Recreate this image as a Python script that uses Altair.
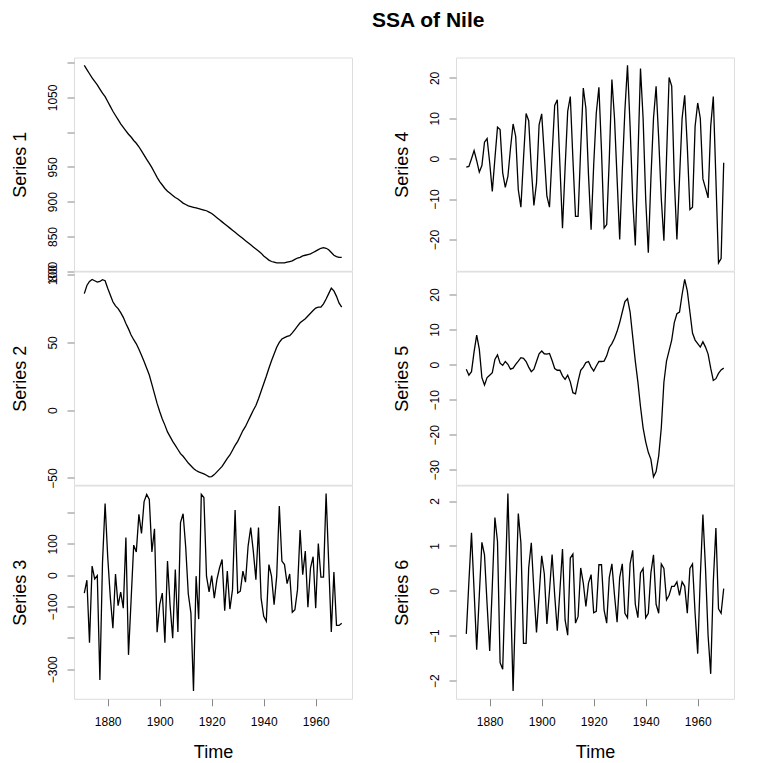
import altair as alt
import pandas as pd

years = list(range(1871, 1971))

series1 = [1096, 1090, 1084, 1078, 1073, 1068, 1062, 1056, 1051, 1044,
           1037, 1030, 1024, 1018, 1012, 1007, 1002, 997, 993, 988,
           984, 979, 973, 967, 961, 955, 949, 942, 935, 929,
           924, 919, 915, 912, 909, 906, 904, 901, 898, 896,
           894, 893, 892, 891, 890, 889, 888, 887, 885, 883,
           880, 877, 874, 871, 868, 865, 862, 859, 856, 853,
           850, 847, 844, 841, 838, 835, 832, 829, 826, 822,
           819, 816, 814, 813, 812, 812, 812, 812, 813, 814,
           815, 817, 819, 820, 822, 823, 824, 825, 827, 829,
           831, 833, 834, 833, 831, 827, 823, 821, 820, 820]

series2 = [86, 92, 95, 96.5, 95.5, 94.5, 95, 96.3, 95.5, 90,
           85, 80, 77, 75, 72, 68.5, 64, 60, 55.5, 52,
           49, 45, 40.5, 36, 31, 26, 19, 12, 5, -1,
           -6.5, -11, -16, -19.5, -23, -26, -29, -32, -34, -36.5,
           -39, -41, -43, -44.5, -45.5, -46.3, -47, -48, -49.2, -49,
           -47.5, -45.5, -43.5, -41.5, -38.5, -35.5, -33, -29.5, -26, -23,
           -19, -15, -12, -8, -4, 0, 3.5, 8.5, 14, 19.5,
           25, 31, 36.5, 41.5, 46.5, 50, 52.5, 53.5, 54.5, 55,
           57, 59.5, 62, 64.5, 66, 67.5, 69.5, 71.5, 73.5, 75.3,
           76, 76, 78.5, 82, 86, 90, 88, 84, 79, 76]

series3 = [-57, -16, -215, 29, -12, -1, -334, 40, 229, 60,
           -70, -169, 4, -97, -54, -105, 120, -254, -80, 96,
           74, 194, 133, 235, 258, 242, 74, 148, -182, -94,
           -57, -215, 45, -97, -201, 18, -181, 168, 196, 90,
           -60, -120, -369, -3, -140, 258, 248, -3, -53, -1,
           -73, -14, 23, 50, -113, 13, -108, -46, 208, -57,
           -51, 13, -22, 93, 152, 77, -14, 152, -73, -131,
           -147, 34, -3, -94, -3, 221, 45, 34, -27, 4,
           -118, -110, -46, 144, 2, 77, -102, 23, 59, -105,
           101, -6, -6, 261, 39, -181, 10, -160, -160, -153]

series4 = [-2.1, -1.9, 0.0, 2.0, -0.5, -3.3, -1.7, 4.1, 5.0, -1.0,
           -8.1, 0.0, 7.8, 7.2, -3.5, -7.1, -4.4, 2.6, 8.6, 5.5,
           -7.7, -12.0, 0.0, 11.2, 9.4, -2.3, -11.6, -6.0, 8.4, 11.1,
           1.0, -9.3, -12.0, 1.0, 13.2, 14.6, -1.5, -17.2, -2.3, 11.7,
           15.4, 0.0, -14.3, -14.3, 2.6, 17.5, 12.5, -4.0, -17.6, -1.5,
           11.3, 17.7, 2.0, -17.2, -16.3, 0.0, 19.6, 10.0, -5.0, -20.0,
           -3.0, 12.0, 23.1, 8.0, -10.0, -21.5, 0.0, 22.3, 10.0, -10.0,
           -23.3, -5.0, 10.0, 17.9, 5.0, -10.0, -20.3, 0.0, 20.1, 18.0,
           -5.0, -20.0, -5.0, 10.0, 15.7, 3.0, -12.6, -12.0, 8.0, 13.8,
           10.0, -5.0, -7.3, -9.7, 8.0, 15.4, -5.0, -25.8, -24.7, -1.0]

series5 = [-1.3, -3, -2, 3.7, 8.4, 4.4, -3.7, -5.8, -3.7, -3,
           -2.3, 1.5, 2.8, 0.4, -0.2, 0.9, 0.1, -1.3, -1, 0.1,
           1, 2, 1.8, 0.9, -0.7, -2, -1.3, 0.9, 3.1, 3.9,
           3.1, 3, 3.2, 1.2, -1.1, -1.6, -1.6, -3.2, -4.2, -3,
           -4.9, -8, -8.3, -4.7, -1.6, -0.7, 0.6, 0.9, -0.7, -1.8,
           -0.4, 0.9, 0.9, 1, 2.5, 4.9, 6, 7.5, 9.5, 12,
           15, 18, 18.8, 15, 8, 1, -5, -12, -18, -22,
           -25, -27, -32, -30.5, -26, -18, -5, 1, 4, 7,
           12, 14.5, 15, 20, 24.3, 21, 15, 9, 7, 6,
           5, 6.5, 5, 3, -1, -4.5, -4, -2.5, -1.5, -1]

series6 = [-0.96, 0.2, 1.29, 0.0, -1.31, -0.1, 1.08, 0.8, -0.3, -1.34,
           0.1, 1.63, 1.1, -1.6, -1.75, 0.2, 2.17, 0.0, -2.23, -0.2,
           1.72, 1.07, -1.17, -1.17, 0.51, 1.07, 0.0, -0.93, -0.1, 0.78,
           0.38, -0.74, 0.0, 0.81, -0.1, -0.89, 0.0, 0.93, -0.65, -0.99,
           0.73, 0.82, -0.72, -0.57, 0.51, 0.17, -0.35, 0.17, 0.36, -0.49,
           -0.46, 0.58, 0.58, -0.43, -0.72, 0.3, 0.6, -0.1, -0.7, 0.3,
           0.6, -0.5, -0.6, 0.6, 0.9, -0.3, -0.6, 0.4, 0.5, -0.6,
           -0.5, 0.4, 0.8, -0.3, -0.5, 0.6, 0.5, -0.2, -0.1, 0.1,
           0.1, 0.2, -0.1, 0.2, 0.1, -0.5, 0.5, 0.6, -0.5, -1.4,
           0.3, 1.7, 0.5, -1.0, -1.85, 0.2, 1.4, -0.4, -0.5, 0.05]

names = ["Series 1", "Series 2", "Series 3", "Series 4", "Series 5", "Series 6"]
y_ticks = [[800, 850, 900, 950, 1000, 1050, 1100],
           [-50, 0, 50, 100],
           [-300, -200, -100, 0, 100, 200],
           [-20, -10, 0, 10, 20],
           [-30, -20, -10, 0, 10, 20],
           [-2, -1, 0, 1, 2]]
y_hidden = [[1000, 1100], [], [-200, 200], [], [], []]
x_ticks = [1880, 1900, 1920, 1940, 1960]

for s in (series1, series2, series3, series4, series5, series6):
    assert len(s) == len(years)

FONT = "Liberation Sans"
PW = 278
PH = 213.3
GAP = 104
X_DOM = [1871 - 0.04 * 99, 1970 + 0.04 * 99]


def ext(vals):
    lo, hi = min(vals), max(vals)
    e = 0.04 * (hi - lo)
    return [lo - e, hi + e]


def panel(vals, name, ticks, hidden, show_x):
    df = pd.DataFrame({"year": years, "value": vals})
    if hidden:
        lbl = "indexof([" + ",".join(str(h) for h in hidden) + "], datum.value) >= 0 ? '' : datum.label"
    else:
        lbl = "datum.label"
    yaxis = alt.Axis(
        values=ticks, format="d", labelExpr=lbl, title=name,
        titleX=-45, titleY=PH / 2, titleAngle=270, titleAlign="center",
        titleBaseline="bottom", titleFontSize=18, titleFontWeight="normal",
        labelAngle=270, labelAlign="center", labelBaseline="bottom",
        labelFontSize=12, tickSize=7, labelPadding=7.5, domain=False,
        grid=False, labelOverlap=False, labelFlush=False, labelBound=False,
    )
    if show_x:
        xaxis = alt.Axis(
            values=x_ticks, format="d", title="Time", titleX=PW / 2,
            titleY=58.3, titleAlign="center", titleBaseline="alphabetic",
            titleFontSize=18, titleFontWeight="normal", labelFontSize=12,
            labelBaseline="top", labelAlign="center", labelAngle=0,
            tickSize=7, labelPadding=11, domain=False, grid=False,
            labelOverlap=False, labelFlush=False,
        )
    else:
        xaxis = None
    return alt.Chart(df).mark_line(color="black", strokeWidth=1.3).encode(
        x=alt.X("year:Q", scale=alt.Scale(domain=X_DOM, nice=False, zero=False), axis=xaxis),
        y=alt.Y("value:Q", scale=alt.Scale(domain=ext(vals), nice=False, zero=False), axis=yaxis),
    ).properties(width=PW, height=PH)


data = [series1, series2, series3, series4, series5, series6]
panels = [panel(data[i], names[i], y_ticks[i], y_hidden[i], i in (2, 5)) for i in range(6)]

# row-major order for a 2-column wrap: (1,4), (2,5), (3,6)
order = [0, 3, 1, 4, 2, 5]

chart = alt.concat(
    *[panels[i] for i in order], columns=2,
    spacing={"row": 0, "column": GAP}, bounds="flush",
).properties(
    title=alt.TitleParams(
        "SSA of Nile", fontSize=21, fontWeight="bold", font=FONT,
        anchor="start", frame="group", baseline="bottom", offset=5.5,
        dx=298, color="black",
    ),
    padding={"left": 2, "top": 1.5, "right": 5, "bottom": 5},
).configure_view(
    stroke="black", strokeWidth=1.3
).configure_axis(
    labelFont=FONT, titleFont=FONT, labelColor="black", titleColor="black",
    tickColor="black", tickWidth=1.3,
).configure(font=FONT, background="white")

chart.save("out.html", embed_options={"renderer": "svg", "actions": False})
